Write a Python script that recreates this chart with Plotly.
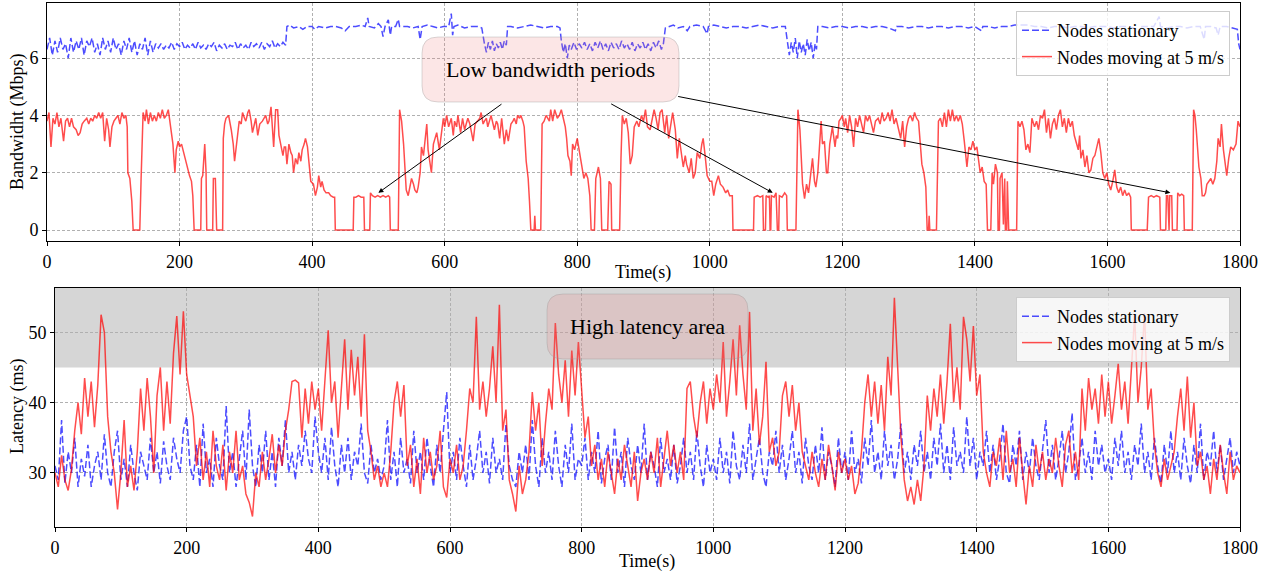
import plotly.graph_objects as go

W, H = 1268, 571

# ---------------- data ----------------
# Bandwidth, nodes moving at 5 m/s: (time s, Mbps)
bw_moving = [
    (0,3.8),(3,4.1),(6,2.9),(9,3.9),(12,3.7),(15,4.1),(18,3.6),(21,3.9),(25,3.1),(28,3.8),
    (31,3.9),(34,3.6),(37,3.9),(40,3.6),(44,3.5),(47,3.3),(50,3.4),(53,3.7),(56,3.8),(60,3.9),
    (63,3.7),(66,3.9),(69,3.8),(72,4.0),(75,3.9),(78,4.1),(81,3.9),(84,4.1),(87,3.1),(90,3.9),
    (93,3.5),(95,2.9),(98,3.6),(101,3.8),(104,3.9),(107,4.0),(110,3.7),(113,4.1),(116,3.9),(119,4.0),
    (121,3.6),(122,2.0),(125,1.8),(128,1.0),(130,0),(140,0),(142,1.8),(145,4.1),(148,3.8),(150,4.2),
    (153,3.7),(156,4.1),(159,3.8),(162,4.0),(165,3.8),(168,4.1),(171,3.9),(174,4.2),(177,3.9),(180,4.0),
    (183,4.2),(186,3.7),(188,3.3),(190,3.0),(193,2.0),(195,2.8),(198,3.1),(200,2.9),(203,3.0),(205,2.8),
    (208,2.6),(210,2.4),(212,2.1),(215,1.9),(218,1.7),(220,1.2),(222,0),(232,0),(233,1.8),(235,1.9),
    (238,3.0),(240,2.0),(241,0),(250,0),(251,1.8),(254,1.8),(256,0),(265,0),(266,3.2),(268,3.7),
    (270,3.9),(274,4.0),(278,3.5),(281,3.0),(283,2.4),(286,3.0),(290,3.8),(293,3.7),(295,4.1),(298,3.9),
    (300,3.8),(303,4.1),(305,4.2),(308,3.8),(310,3.4),(313,3.7),(315,3.9),(318,3.3),(321,3.7),(325,3.8),
    (328,3.9),(330,4.0),(333,3.7),(335,3.8),(338,4.3),(340,3.4),(342,2.9),(345,4.2),(348,4.2),(350,3.3),
    (353,3.0),(356,2.6),(358,2.9),(360,2.9),(362,2.3),(365,3.0),(368,2.7),(370,2.6),(372,2.0),(375,2.5),
    (378,2.3),(380,2.7),(383,2.4),(385,2.8),(388,3.0),(390,3.2),(393,2.9),(396,2.2),(398,1.7),(402,1.6),
    (405,1.2),(408,1.5),(410,1.9),(413,1.5),(415,1.7),(418,1.4),(421,1.3),(425,1.3),(428,1.2),(432,1.15),
    (434,1.15),(435,0),(462,0),(463,1.15),(466,1.15),(470,1.2),(474,1.15),(478,1.15),(479,0),(487,0),
    (488,1.3),(491,1.2),(495,1.15),(499,1.2),(503,1.15),(507,1.2),(511,1.15),(515,1.2),(517,1.15),(518,0),
    (530,0),(532,4.2),(535,3.8),(538,3.0),(540,2.0),(542,1.4),(545,1.2),(548,1.6),(550,1.8),(553,1.6),
    (555,1.4),(558,1.3),(560,1.5),(563,2.0),(565,2.9),(568,2.6),(570,3.0),(573,3.7),(575,2.8),(578,2.3),
    (580,2.0),(583,3.0),(586,3.2),(588,3.4),(592,2.8),(595,3.4),(598,3.9),(600,3.6),(603,4.0),(606,3.6),
    (610,3.9),(613,3.3),(615,3.8),(618,3.6),(620,4.0),(624,3.4),(627,3.9),(630,3.5),(633,3.8),(635,3.9),
    (638,3.7),(640,3.5),(643,3.1),(646,3.7),(650,3.8),(653,3.9),(655,4.1),(658,3.7),(660,3.8),(663,3.9),
    (665,3.6),(668,3.9),(670,4.0),(673,3.7),(675,3.5),(678,3.8),(680,3.7),(683,3.2),(686,3.9),(690,3.0),
    (693,3.5),(696,3.1),(700,3.7),(703,3.8),(705,3.9),(708,3.7),(710,4.0),(713,3.9),(715,4.0),(718,3.8),
    (720,3.6),(723,2.4),(726,1.8),(728,1.0),(730,0),(735,0),(736,0.5),(737,0),(745,0),(747,3.7),
    (750,3.8),(753,4.0),(755,3.9),(758,3.8),(760,4.2),(763,3.8),(766,4.2),(770,3.9),(773,4.0),(776,4.2),
    (779,3.9),(782,3.6),(784,3.2),(786,2.6),(789,2.4),(791,1.9),(793,3.0),(796,2.8),(800,3.2),(803,2.8),
    (806,2.3),(808,2.0),(810,1.8),(813,2.0),(816,1.8),(819,1.2),(821,0),(826,0),(828,1.8),(832,2.2),
    (835,1.8),(837,0),(846,0),(848,1.7),(851,1.6),(852,0),(864,0),(866,2.5),(868,4.0),(871,3.7),
    (874,3.9),(877,3.4),(880,2.3),(883,2.6),(886,3.6),(890,3.8),(893,3.6),(897,4.0),(900,3.8),(903,4.2),
    (906,3.6),(910,3.5),(913,3.9),(916,4.2),(919,3.9),(922,3.5),(925,4.1),(928,4.2),(932,3.4),(935,4.0),
    (938,3.2),(941,3.6),(944,4.1),(948,3.5),(951,2.5),(954,3.2),(957,2.7),(960,2.2),(963,2.6),(965,2.3),
    (969,2.0),(972,2.5),(975,1.8),(978,2.0),(981,2.7),(985,2.5),(988,3.0),(990,3.2),(993,2.6),(996,1.9),
    (1000,1.7),(1003,1.7),(1006,1.2),(1009,1.6),(1013,1.9),(1016,1.6),(1020,1.5),(1024,1.3),(1027,1.4),(1030,1.2),
    (1034,1.2),(1035,0),(1066,0),(1067,1.15),(1072,1.2),(1076,1.15),(1080,1.2),(1081,0),(1084,0),(1085,1.2),
    (1088,1.15),(1090,1.2),(1091,0),(1092,0),(1093,1.2),(1097,1.15),(1100,1.3),(1102,0),(1104,0),(1105,1.2),
    (1109,1.15),(1113,1.3),(1116,1.2),(1117,0),(1130,0),(1133,4.2),(1136,3.5),(1138,2.5),(1140,1.6),(1143,1.1),
    (1146,1.6),(1149,1.3),(1153,2.0),(1155,2.5),(1158,1.7),(1160,1.5),(1163,2.0),(1165,2.7),(1168,3.8),(1170,3.0),
    (1173,3.1),(1176,2.0),(1178,2.0),(1181,3.0),(1185,3.6),(1189,2.9),(1191,3.3),(1193,3.2),(1195,3.8),(1198,3.9),
    (1200,4.0),(1203,3.6),(1205,3.9),(1208,3.4),(1211,4.0),(1214,3.6),(1217,2.9),(1220,3.9),(1223,3.6),(1226,4.0),
    (1229,3.7),(1232,3.4),(1235,4.0),(1238,3.8),(1241,4.0),(1244,3.7),(1247,3.4),(1250,3.8),(1254,3.9),(1257,3.7),
    (1260,4.1),(1263,3.8),(1266,3.9),(1269,4.1),(1272,3.8),(1275,4.2),(1278,3.7),(1281,3.9),(1284,3.6),(1288,3.2),
    (1291,3.8),(1294,2.9),(1297,3.6),(1300,3.9),(1303,4.0),(1306,3.8),(1309,4.1),(1312,3.9),(1315,3.8),(1318,3.0),
    (1320,2.3),(1323,2.0),(1326,1.5),(1328,0),(1330,0),(1331,0.5),(1332,0),(1342,0),(1345,3.8),(1348,3.9),
    (1351,3.6),(1354,4.1),(1357,3.6),(1360,4.2),(1363,3.8),(1366,4.2),(1369,3.8),(1372,4.0),(1375,3.8),(1378,4.0),
    (1381,3.7),(1384,3.1),(1386,2.5),(1388,2.2),(1391,2.9),(1394,2.8),(1397,3.1),(1400,2.8),(1403,2.9),(1406,2.4),
    (1408,2.0),(1411,2.2),(1414,1.7),(1417,1.6),(1419,0),(1424,0),(1426,2.0),(1428,1.6),(1431,2.3),(1434,2.0),
    (1435,0),(1437,0),(1438,1.8),(1441,2.0),(1443,0.2),(1445,1.8),(1446,0),(1448,0),(1449,1.7),(1451,0),
    (1463,0),(1465,3.8),(1468,3.6),(1471,3.8),(1474,3.5),(1477,2.8),(1480,3.0),(1483,2.7),(1486,3.9),(1490,3.6),
    (1493,3.8),(1496,3.5),(1499,4.0),(1502,3.9),(1505,4.2),(1508,3.4),(1511,3.9),(1514,3.2),(1517,3.7),(1520,3.9),
    (1523,3.5),(1526,4.0),(1529,4.2),(1532,3.6),(1535,3.9),(1538,3.4),(1541,3.9),(1544,3.6),(1547,3.8),(1550,3.3),
    (1553,3.0),(1556,2.8),(1558,3.3),(1560,2.5),(1563,2.8),(1566,2.2),(1569,2.6),(1572,2.0),(1575,2.1),(1578,2.5),
    (1581,2.6),(1584,2.9),(1587,3.2),(1590,2.7),(1593,2.0),(1596,1.8),(1599,2.0),(1602,1.6),(1605,1.4),(1608,1.7),
    (1611,2.1),(1614,1.5),(1617,1.3),(1620,1.5),(1623,1.2),(1626,1.4),(1629,1.2),(1632,1.3),(1635,1.15),(1636,0),
    (1660,0),(1662,1.15),(1666,1.2),(1670,1.15),(1674,1.2),(1679,1.15),(1680,0),(1688,0),(1689,1.2),(1691,1.2),
    (1692,0),(1693,0),(1694,1.2),(1697,1.2),(1698,0),(1705,0),(1706,1.3),(1709,1.2),(1712,1.25),(1715,1.2),
    (1716,0),(1728,0),(1730,4.2),(1732,4.0),(1734,3.5),(1736,2.6),(1738,2.2),(1741,1.8),(1743,1.2),(1746,1.2),
    (1748,1.3),(1750,1.6),(1753,1.7),(1756,1.8),(1759,1.6),(1762,1.8),(1765,2.4),(1767,3.2),(1770,2.9),(1772,3.7),
    (1775,2.8),(1777,2.5),(1780,1.9),(1783,2.5),(1786,2.9),(1790,2.8),(1794,3.0),(1797,3.8),(1800,3.6),
]

# Bandwidth, nodes stationary: (time s, Mbps)
bw_stationary = [
    (0,6.3),(4,6.7),(8,6.1),(12,6.6),(16,6.2),(20,6.7),(24,6.3),(28,6.5),(32,6.0),(36,6.7),
    (40,6.2),(44,6.6),(48,6.3),(52,6.7),(56,6.1),(60,6.6),(64,6.4),(68,6.7),(72,6.2),(76,6.5),
    (80,6.1),(84,6.7),(88,6.3),(92,6.6),(96,6.2),(100,6.7),(104,6.3),(108,6.5),(112,6.1),(116,6.6),
    (120,6.3),(124,6.7),(128,6.2),(132,6.6),(136,6.1),(140,6.5),(144,6.3),(148,6.7),(152,6.1),(156,6.6),
    (160,6.2),(164,6.5),(168,6.35),(172,6.5),(176,6.3),(180,6.45),(184,6.35),(188,6.55),(192,6.3),(196,6.5),
    (200,6.4),(204,6.55),(208,6.3),(212,6.45),(216,6.35),(220,6.5),(224,6.3),(228,6.55),(232,6.35),(236,6.45),
    (240,6.3),(244,6.5),(248,6.4),(252,6.55),(256,6.25),(260,6.45),(264,6.35),(268,6.5),(272,6.3),(276,6.45),
    (280,6.4),(284,6.55),(288,6.3),(292,6.5),(296,6.35),(300,6.45),(304,6.3),(308,6.55),(312,6.4),(316,6.5),
    (320,6.35),(324,6.55),(328,6.3),(332,6.5),(336,6.4),(340,6.6),(344,6.35),(348,6.5),(352,6.4),(356,6.55),
    (360,6.45),(362,7.1),(366,7.15),(372,7.05),(380,7.1),(386,7.0),(392,7.1),(400,7.1),(404,7.0),(410,7.1),
    (420,7.05),(428,7.1),(436,7.1),(444,7.05),(450,6.95),(456,7.1),(466,7.1),(474,7.15),(480,7.1),(484,7.4),
    (486,7.1),(494,7.05),(500,7.2),(504,7.1),(507,6.75),(510,7.1),(515,7.33),(518,6.8),(520,7.1),(526,7.1),
    (530,7.35),(532,7.1),(544,7.1),(552,7.05),(560,7.1),(563,6.65),(566,7.1),(574,7.15),(582,7.1),(590,7.05),
    (598,7.1),(606,7.1),(610,7.55),(612,6.8),(614,7.1),(620,7.15),(630,7.05),(640,7.1),(650,7.1),(656,7.05),
    (660,6.5),(663,6.2),(666,6.55),(669,6.3),(672,6.6),(675,6.25),(678,6.5),(681,6.35),(684,6.55),(687,6.3),
    (690,6.6),(693,6.45),(695,7.1),(700,7.1),(710,7.05),(720,7.1),(730,7.15),(740,7.1),(750,7.05),(760,7.1),
    (770,7.1),(774,7.05),(776,6.6),(779,6.2),(782,6.5),(785,6.0),(788,6.45),(791,6.3),(795,6.55),(799,6.3),
    (803,6.5),(807,6.35),(811,6.55),(815,6.3),(819,6.5),(823,6.25),(827,6.55),(831,6.35),(835,6.6),(839,6.3),
    (843,6.5),(847,6.25),(851,6.55),(855,6.35),(859,6.5),(863,6.3),(867,6.6),(871,6.35),(875,6.5),(879,6.3),
    (883,6.55),(887,6.25),(891,6.5),(895,6.35),(899,6.55),(903,6.3),(907,6.5),(911,6.25),(915,6.55),(919,6.35),
    (923,6.6),(927,6.3),(930,6.5),(933,7.05),(938,7.1),(945,7.15),(952,7.05),(960,7.1),(966,6.95),(970,7.1),
    (980,7.15),(990,7.1),(996,6.85),(998,7.1),(1006,7.15),(1015,7.1),(1025,7.05),(1035,7.1),(1045,7.1),(1055,7.05),
    (1065,7.1),(1075,7.15),(1085,7.1),(1095,7.05),(1105,7.1),(1114,7.1),(1117,6.6),(1120,6.1),(1123,6.55),(1126,6.2),
    (1129,6.7),(1132,6.0),(1135,6.6),(1138,6.2),(1141,6.5),(1144,6.1),(1147,6.65),(1150,6.25),(1153,6.55),(1156,6.0),
    (1159,6.5),(1161,6.3),(1163,7.1),(1170,7.1),(1180,7.05),(1190,7.1),(1200,7.1),(1210,7.05),(1220,7.1),(1230,7.1),
    (1240,7.05),(1250,7.1),(1260,7.1),(1270,7.05),(1280,6.95),(1282,7.1),(1290,7.1),(1300,7.05),(1310,7.1),(1320,7.1),
    (1330,7.05),(1340,7.1),(1350,7.1),(1360,7.05),(1370,7.1),(1380,7.1),(1390,7.05),(1400,7.1),(1410,6.95),(1412,7.1),
    (1420,7.1),(1430,7.05),(1440,7.1),(1450,7.1),(1460,7.15),(1470,7.15),(1480,7.15),(1490,7.1),(1500,7.1),(1510,7.05),
    (1520,7.1),(1530,7.1),(1540,7.05),(1550,7.1),(1560,7.1),(1570,7.05),(1580,7.1),(1590,7.1),(1600,7.1),(1610,7.05),
    (1620,7.1),(1630,7.1),(1640,7.05),(1650,6.85),(1652,7.1),(1660,7.1),(1670,7.1),(1678,7.45),(1680,7.1),(1690,7.05),
    (1700,7.1),(1710,7.1),(1720,7.05),(1730,7.1),(1740,7.1),(1746,6.65),(1748,7.1),(1756,7.1),(1764,7.05),(1767,6.8),
    (1770,7.1),(1780,7.1),(1790,7.05),(1796,7.0),(1798,6.5),(1800,6.3),
]

# Latency sampled every 5 s
lat_t = list(range(0, 1801, 5))
lat_stationary = [
    31, 29, 37.5, 28.5, 33, 30, 35, 28, 32, 29.5, 34, 28, 31, 33, 29, 35.5, 30, 28, 33, 36,
    29, 32, 28, 34, 30, 27.5, 33, 31, 29, 35, 30, 33, 28.5, 34.5, 31, 29, 35, 32, 30, 36,
    38, 31, 29, 34, 28, 37, 30, 32, 28, 35, 31, 29, 39.5, 30, 33, 28, 32, 36, 29, 39,
    31, 28, 34, 30, 36, 29, 33, 28, 35, 31, 37.5, 30, 33, 29, 34, 31, 36, 32, 30, 38,
    33, 30, 35, 29, 36.5, 31, 28, 34, 30, 35, 29, 33, 31, 37, 30, 28.5, 34, 30, 32, 29,
    31, 37.5, 29, 33, 28, 35, 30, 32, 28.5, 36, 30, 33, 29, 35, 31, 28, 34, 30, 36, 41.5,
    30, 33, 29, 35, 31, 28, 34, 29, 32, 36, 30, 33, 28.5, 35, 30, 32, 29, 37, 31, 29,
    28, 33, 30, 34, 29, 37.5, 31, 28, 35, 30, 33, 29, 36, 31, 28, 34, 30, 37, 29, 32,
    31, 35, 29, 33, 30, 36, 28.5, 32, 34, 29, 36.5, 30, 33, 28, 35, 31, 29, 34, 30, 37,
    29, 33, 31, 28, 35, 30, 32, 29, 34, 28.5, 31, 35, 30, 33, 29, 36, 31, 28, 34, 30,
    32, 29, 35, 30, 33, 28.5, 36, 31, 29, 34, 30, 37, 29, 32, 35, 30, 28, 33, 31, 36,
    30, 34, 29, 32, 36, 30, 33, 28.5, 35, 31, 29, 34, 30, 36.5, 29, 33, 31, 28, 35, 30,
    33, 29, 36, 30, 32, 28.5, 35, 31, 37.5, 30, 33, 29, 36, 31, 34, 29, 32, 37, 30, 33,
    29, 34, 31, 36, 30, 33, 29, 35, 31, 37, 30, 34, 29, 36.5, 31, 33, 30, 38, 31, 35,
    29, 33, 31, 36, 30, 34, 29, 32, 37, 30, 28.5, 34, 31, 36, 29, 33, 30, 35, 31, 29,
    33, 37.5, 30, 34, 29, 32, 36, 30, 33, 38.5, 29, 31, 35, 30, 33, 29, 36, 31, 34, 30,
    32, 29, 35, 31, 36, 30, 33, 29, 34, 31, 37, 30, 33, 29, 35, 31, 28.5, 34, 30, 36,
    30, 33, 29, 35, 31, 28.5, 34, 30, 37, 29, 33, 31, 36, 30, 34, 29, 32, 35, 30, 33,
    31,
]
lat_moving = [
    30, 28, 32.5, 29, 27.5, 30.5, 36, 40, 35.5, 43.5, 38, 43, 36.5, 42.5, 52.5, 50, 38, 33, 30, 24.8,
    30, 37.5, 28, 31, 27.5, 33, 42, 36, 43.5, 38, 30, 41, 45, 36, 43, 37, 47, 52.3, 44, 53,
    44, 41, 38, 31, 35, 29, 33, 28, 36, 31, 29, 34, 27.5, 33, 30, 36, 29, 31, 27, 25.8,
    23.8, 30, 28, 33, 29, 32, 35.5, 30, 34, 31, 36, 39, 43, 43.2, 42.8, 35, 42, 37, 43, 39,
    42, 36, 44, 50.3, 40, 43, 35, 42, 49, 39, 47.5, 41, 46.5, 38, 49.7, 36, 33, 29, 31, 28,
    30, 28, 33, 40, 43, 38, 42.5, 31, 34, 28, 32, 27, 35, 30, 33, 29, 31, 36, 28, 26.5,
    32, 30, 34, 29, 31, 36, 42, 40, 52.2, 39, 43, 38, 42, 48, 40, 53.9, 36, 39, 29, 27,
    24.5, 31, 27, 29, 33, 41.5, 36, 40, 31, 37, 42, 39, 51.3, 44, 40, 46, 38, 47.4, 41, 48.6,
    42, 35, 38, 31, 34, 29, 32, 28, 33, 30, 27, 32, 29, 34, 31, 28, 33, 26, 30, 32,
    29, 33, 30, 35, 28, 32, 36, 31, 34, 30, 33, 29, 42, 43, 38, 35, 40, 43, 37, 42,
    39, 44, 40, 48.6, 38, 43, 49, 41, 51, 44, 39, 52.9, 36, 42, 34, 38, 45.8, 33, 35, 31,
    33, 41, 43, 38, 42.5, 36, 40, 33, 31, 29, 33, 30, 28, 32, 29, 34, 31, 27.5, 33, 30,
    32, 29, 31, 27, 28.5, 33, 40, 44, 38, 43, 37, 42.5, 36, 46.5, 41, 54.9, 45, 35, 29, 26,
    28, 25.5, 29, 26, 31, 41, 36, 42, 38, 44, 37, 43, 51.2, 40, 45, 39, 52.2, 49, 43, 50.9,
    41, 44, 33, 30, 28, 33, 31, 35, 29, 36, 30, 32, 28, 35, 30, 25.5, 31, 28, 34, 30,
    33, 29, 32, 30, 35, 31, 28, 34, 36, 30, 33, 29, 42, 36, 43.5, 39, 42, 37, 44, 38,
    43, 37, 41, 45.5, 39, 43, 37, 44, 52.5, 40, 45, 52.7, 39, 42, 34, 30, 28, 32, 29, 31,
    33, 38, 42, 36, 43.7, 35, 40, 31, 33, 29, 31, 27, 32, 29, 34, 30, 27, 33, 29, 31,
    30,
]
assert len(lat_stationary) == len(lat_t) and len(lat_moving) == len(lat_t)

x_ticks = list(range(0, 1801, 200))
bw_ticks = [0, 2, 4, 6]
lat_ticks = [30, 40, 50]
high_latency_threshold = 45
arrow_targets = [(500, 1.3), (1095, 1.3), (1695, 1.3)]
series_names = ["Nodes stationary", "Nodes moving at 5 m/s"]

# ---------------- styling ----------------
FONT = "Liberation Serif"
FS = 18
BLUE = "rgba(0,0,255,0.7)"
RED = "rgba(255,0,0,0.7)"
DASH = "7px,3px"

def px_x(p):
    return p / W

def px_y(p):
    return 1 - p / H

fig = go.Figure()

fig.add_trace(go.Scatter(x=[p[0] for p in bw_stationary], y=[p[1] for p in bw_stationary],
                         mode="lines", name=series_names[0],
                         line=dict(color=BLUE, width=1.5, dash=DASH),
                         xaxis="x", yaxis="y", legend="legend"))
fig.add_trace(go.Scatter(x=[p[0] for p in bw_moving], y=[p[1] for p in bw_moving],
                         mode="lines", name=series_names[1],
                         line=dict(color=RED, width=1.5),
                         xaxis="x", yaxis="y", legend="legend"))
fig.add_trace(go.Scatter(x=lat_t, y=lat_stationary, mode="lines", name=series_names[0],
                         line=dict(color=BLUE, width=1.5, dash=DASH),
                         xaxis="x2", yaxis="y2", legend="legend2"))
fig.add_trace(go.Scatter(x=lat_t, y=lat_moving, mode="lines", name=series_names[1],
                         line=dict(color=RED, width=1.5),
                         xaxis="x2", yaxis="y2", legend="legend2"))

axis_common = dict(showline=True, mirror=True, linecolor="black", linewidth=1,
                   ticks="outside", ticklen=4, tickcolor="black", tickwidth=1,
                   showgrid=True, gridcolor="#b0b0b0", griddash="3px,2px", gridwidth=0.8,
                   zeroline=False, tickfont=dict(family=FONT, size=FS, color="black"),
                   automargin=False)

top_dom = [px_y(241), px_y(3)]
bot_dom = [px_y(527), px_y(288)]

legend_common = dict(xanchor="right", yanchor="top",
                     bgcolor="rgba(255,255,255,0.8)", bordercolor="#cccccc", borderwidth=1,
                     font=dict(family=FONT, size=FS, color="black"), tracegroupgap=0)

fig.update_layout(
    width=W, height=H,
    margin=dict(l=0, r=0, t=0, b=0),
    paper_bgcolor="white", plot_bgcolor="white",
    font=dict(family=FONT, size=FS, color="black"),
    xaxis=dict(domain=[px_x(47), px_x(1240)], range=[0, 1800], tickvals=x_ticks,
               anchor="y", **axis_common),
    yaxis=dict(domain=top_dom, range=[-0.38, 7.92], tickvals=bw_ticks, anchor="x", **axis_common),
    xaxis2=dict(domain=[px_x(55), px_x(1240)], range=[0, 1800], tickvals=x_ticks,
                anchor="y2", **axis_common),
    yaxis2=dict(domain=bot_dom, range=[22.3, 56.3], tickvals=lat_ticks, anchor="x2", **axis_common),
    legend=dict(x=px_x(1230), y=px_y(11), **legend_common),
    legend2=dict(x=px_x(1230), y=px_y(297), **legend_common),
    showlegend=True,
)

# high latency band
fig.add_shape(type="rect", xref="x2", yref="y2", x0=0, x1=1800,
              y0=high_latency_threshold, y1=56.3, fillcolor="rgb(214,214,214)",
              line=dict(width=0), layer="below")

def rounded_box(x0, y0, x1, y1, r):
    def P(x, y):
        return f"{px_x(x):.5f},{px_y(y):.5f}"
    return (f"M {P(x0 + r, y0)} L {P(x1 - r, y0)} Q {P(x1, y0)} {P(x1, y0 + r)} "
            f"L {P(x1, y1 - r)} Q {P(x1, y1)} {P(x1 - r, y1)} "
            f"L {P(x0 + r, y1)} Q {P(x0, y1)} {P(x0, y1 - r)} "
            f"L {P(x0, y0 + r)} Q {P(x0, y0)} {P(x0 + r, y0)} Z")

for (bx0, by0, bx1, by1) in [(422, 37, 679, 102), (547, 294, 748, 359)]:
    fig.add_shape(type="path", xref="paper", yref="paper",
                  path=rounded_box(bx0, by0, bx1, by1, 16),
                  fillcolor="rgba(240,128,128,0.2)",
                  line=dict(color="rgba(150,150,150,0.35)", width=1), layer="above")

fig.add_annotation(xref="paper", yref="paper", x=px_x(550), y=px_y(69),
                   text="Low bandwidth periods", showarrow=False,
                   font=dict(family=FONT, size=22, color="black"),
                   xanchor="center", yanchor="middle")
fig.add_annotation(xref="paper", yref="paper", x=px_x(647), y=px_y(326),
                   text="High latency area", showarrow=False,
                   font=dict(family=FONT, size=22, color="black"),
                   xanchor="center", yanchor="middle")

arrow_tails = [(688, 4.43), (849, 4.43), (950, 4.67)]
for (hx, hy), (tx, ty) in zip(arrow_targets, arrow_tails):
    fig.add_annotation(xref="x", yref="y", x=hx, y=hy, axref="x", ayref="y", ax=tx, ay=ty,
                       text="", showarrow=True, arrowhead=2, arrowsize=1, arrowwidth=1,
                       arrowcolor="black")

# axis titles
fig.add_annotation(xref="paper", yref="paper", x=px_x(643), y=px_y(272), text="Time(s)",
                   showarrow=False, font=dict(family=FONT, size=FS, color="black"),
                   xanchor="center", yanchor="middle")
fig.add_annotation(xref="paper", yref="paper", x=px_x(647), y=px_y(561), text="Time(s)",
                   showarrow=False, font=dict(family=FONT, size=FS, color="black"),
                   xanchor="center", yanchor="middle")
fig.add_annotation(xref="paper", yref="paper", x=px_x(17), y=px_y(122), text="Bandwidht (Mbps)",
                   showarrow=False, textangle=-90, font=dict(family=FONT, size=FS, color="black"),
                   xanchor="center", yanchor="middle")
fig.add_annotation(xref="paper", yref="paper", x=px_x(17), y=px_y(407), text="Latency (ms)",
                   showarrow=False, textangle=-90, font=dict(family=FONT, size=FS, color="black"),
                   xanchor="center", yanchor="middle")

fig.write_html("out.html", config={"displayModeBar": False},
               post_script="document.body.style.margin='0px';")
